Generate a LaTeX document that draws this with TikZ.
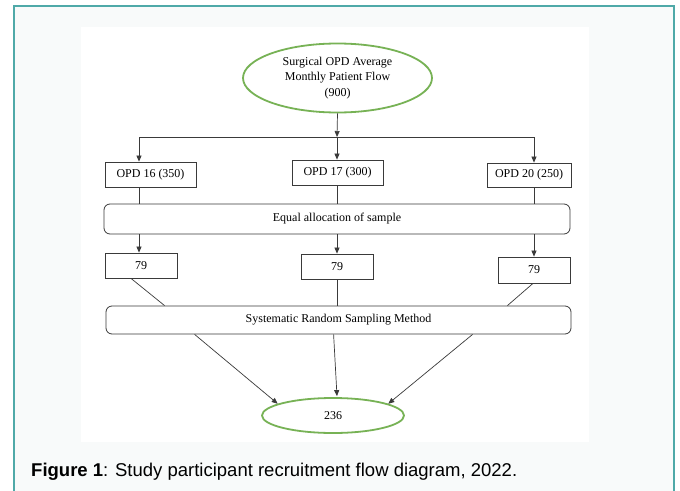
\documentclass[tikz,border=0pt]{standalone}
\usepackage{fontspec}
\setmainfont{Liberation Serif}
\newfontfamily\capfont{Liberation Sans}
\usetikzlibrary{shapes.geometric,arrows.meta,calc}
\definecolor{frameteal}{HTML}{4FA9A8}
\definecolor{panelbg}{HTML}{F8FAFA}
\definecolor{ellgreen}{HTML}{77B255}
\definecolor{linegray}{HTML}{3A3A3A}
\tikzset{
  box/.style={draw=linegray, line width=0.8pt, fill=white, rectangle, inner sep=0pt,
    font=\fontsize{12}{14}\selectfont},
  rbox/.style={box, rounded corners=6pt},
  ell/.style={draw=ellgreen, line width=1.8pt, fill=white, ellipse, inner sep=0pt,
    font=\fontsize{12}{15.5}\selectfont, align=center},
  conn/.style={draw=linegray, line width=0.7pt},
  arr/.style={conn, -{Triangle[length=6pt,width=5pt]}}
}
\begin{document}
\begin{tikzpicture}[x=1pt,y=-1pt]
\clip (0,0) rectangle (680,490);
\fill[white] (0,0) rectangle (680,490);
\draw[frameteal, line width=2pt, fill=panelbg] (14,6) rectangle (674,500);
\fill[white] (81,27) rectangle (589,442);

% nodes
\node[ell, minimum width=189pt, minimum height=69pt] (src) at (337.5,78)
  {Surgical OPD Average\\Monthly Patient Flow\\(900)};
\node[box, minimum width=91pt, minimum height=25pt] (o16) at (150.5,174.5) {OPD 16 (350)};
\node[box, minimum width=91pt, minimum height=25pt] (o17) at (337.5,172.5) {OPD 17 (300)};
\node[box, minimum width=84pt, minimum height=24pt] (o20) at (529,175) {OPD 20 (250)};
\node[rbox, minimum width=466pt, minimum height=30pt] (eq) at (337,219) {Equal allocation of sample};
\node[box, minimum width=72pt, minimum height=25pt] (n1) at (141,265.5) {79};
\node[box, minimum width=72pt, minimum height=25pt] (n2) at (337,266.5) {79};
\node[box, minimum width=72pt, minimum height=26pt] (n3) at (534,270) {79};
\node[rbox, minimum width=465pt, minimum height=28pt] (sys) at (338.5,320) {Systematic Random Sampling Method};
\node[ell, minimum width=142pt, minimum height=35pt] (fin) at (333,415.5) {236};

% coordinates for the split line
\coordinate (hl) at (139,137);
\coordinate (hm) at (337,137);
\coordinate (hr) at (534,137);

% connectors
\draw[arr] (src.south) -- (hm);
\draw[conn] (hl) -- (hr);
\draw[arr] (hl) -- (hl |- o16.north);
\draw[arr] (hm) -- (hm |- o17.north);
\draw[arr] (hr) -- (hr |- o20.north);

\draw[conn] (hl |- o16.south) -- (hl |- eq.north);
\draw[conn] (hm |- o17.south) -- (hm |- eq.north);
\draw[conn] (hr |- o20.south) -- (hr |- eq.north);

\draw[arr] (hl |- eq.south) -- (hl |- n1.north);
\draw[arr] (hm |- eq.south) -- (hm |- n2.north);
\draw[arr] (hr |- eq.south) -- (hr |- n3.north);

\draw[conn] ($(n1.south)+(-10,0)$) -- ($(sys.north west)+(59,0)$);
\draw[conn] (n2.south) -- (n2.south |- sys.north);
\draw[conn] ($(n3.south)+(-1,0)$) -- ($(sys.north east)+(-64,0)$);

\draw[arr] ($(sys.south west)+(89,0)$) -- (fin.168);
\draw[arr] ($(sys.south west)+(228,0)$) -- ($(fin.north)+(4,-1)$);
\draw[arr] ($(sys.south west)+(367,0)$) -- (fin.12);

% caption
\node[anchor=base west, inner sep=0pt, font=\capfont\fontsize{18.5}{22}\selectfont] (cap) at (31,476)
  {\textbf{Figure 1}: Study participant recruitment flow diagram, 2022.};
\end{tikzpicture}
\end{document}
